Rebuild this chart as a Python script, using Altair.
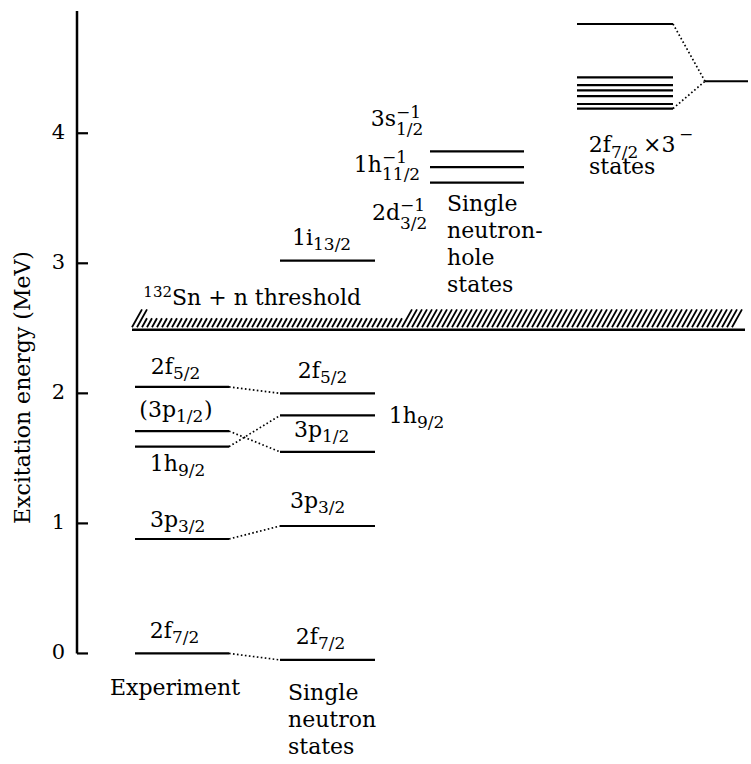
import altair as alt
import numpy as np
import pandas as pd

# ---------------------------------------------------------------
# Level energies (MeV)
# ---------------------------------------------------------------
exp_names = ["2f7/2", "3p3/2", "1h9/2", "(3p1/2)", "2f5/2"]
exp_energy = [0.00, 0.88, 1.59, 1.71, 2.05]

sp_names = ["2f7/2", "3p3/2", "3p1/2", "1h9/2", "2f5/2", "1i13/2"]
sp_energy = [-0.05, 0.98, 1.55, 1.83, 2.00, 3.02]

hole_names = ["2d3/2^-1", "1h11/2^-1", "3s1/2^-1"]
hole_energy = [3.62, 3.74, 3.86]

oct_energy = [4.19, 4.225, 4.285, 4.33, 4.37, 4.43, 4.84]
oct_centroid = 4.40

# experiment level -> single-neutron level it is linked to
link_from = [0.00, 0.88, 1.59, 1.71, 2.05]
link_to = [-0.05, 0.98, 1.83, 1.55, 2.00]

threshold_lo = 2.508   # 132Sn + n separation energy band
threshold_hi = 2.646
threshold_line = 2.489

tick_values = [0, 1, 2, 3, 4]

# ---------------------------------------------------------------
# Layout
# ---------------------------------------------------------------
Y_MIN, Y_MAX = -0.85, 4.94
PLOT_W, PLOT_H = 674, 753
MEV_PER_PX = (Y_MAX - Y_MIN) / PLOT_H
FONT = "DejaVu Serif"
BIG, SMALL = 22, 17

# horizontal extent of each column of levels (x units = pixels from the axis)
COL_EXP = (58, 152)
COL_SP = (203, 298)
COL_HOLE = (353, 447)
COL_OCT = (500, 596)
COL_CEN = (628, 671)
BAND = (55, 668)
BAND_TEXT = (65, 321)   # part of the band sitting under the threshold label


def at(e, px):
    """Energy shifted by a number of pixels (positive = upwards)."""
    return e + px * MEV_PER_PX


xs = alt.Scale(domain=[0, PLOT_W], range=[0, PLOT_W])
ys = alt.Scale(domain=[Y_MIN, Y_MAX])
X = lambda f="x": alt.X(f"{f}:Q", scale=xs, axis=None)
Y = lambda f="y": alt.Y(f"{f}:Q", scale=ys, axis=None)

# ---------------------------------------------------------------
# Level lines
# ---------------------------------------------------------------
rows = []
for e in exp_energy:
    rows.append({"x": COL_EXP[0], "x2": COL_EXP[1], "y": e})
for e in sp_energy:
    rows.append({"x": COL_SP[0], "x2": COL_SP[1], "y": e})
for e in hole_energy:
    rows.append({"x": COL_HOLE[0], "x2": COL_HOLE[1], "y": e})
for e in oct_energy:
    rows.append({"x": COL_OCT[0], "x2": COL_OCT[1], "y": e})
rows.append({"x": COL_CEN[0], "x2": COL_CEN[1], "y": oct_centroid})
levels = pd.DataFrame(rows)

level_layer = alt.Chart(levels).mark_rule(color="black", strokeWidth=2.2).encode(
    x=X(), x2="x2:Q", y=Y()
)

# ---------------------------------------------------------------
# Dotted connectors
# ---------------------------------------------------------------
links = pd.DataFrame(
    [{"x": COL_EXP[1], "x2": COL_SP[0], "y": a, "y2": b} for a, b in zip(link_from, link_to)]
    + [
        {"x": COL_OCT[1], "x2": COL_CEN[0], "y": max(oct_energy), "y2": oct_centroid},
        {"x": COL_OCT[1], "x2": COL_CEN[0], "y": min(oct_energy), "y2": oct_centroid},
    ]
)
link_layer = alt.Chart(links).mark_rule(
    color="black", strokeWidth=1.7, strokeDash=[1.6, 2.4]
).encode(x=X(), x2="x2:Q", y=Y(), y2="y2:Q")

# ---------------------------------------------------------------
# Energy axis: line, inward ticks, tick labels
# ---------------------------------------------------------------
axis_line = alt.Chart(pd.DataFrame({"x": [0], "y": [0.0], "y2": [Y_MAX]})).mark_rule(
    color="black", strokeWidth=2.5
).encode(x=X(), y=Y(), y2="y2:Q")

ticks = pd.DataFrame({"x": 0, "x2": 11, "xl": -12, "y": tick_values,
                      "t": [str(v) for v in tick_values]})
tick_layer = alt.Chart(ticks).mark_rule(color="black", strokeWidth=2.2).encode(
    x=X(), x2="x2:Q", y=Y()
)
tick_labels = alt.Chart(ticks).mark_text(
    font=FONT, fontSize=21, align="right", baseline="middle", color="black"
).encode(x=X("xl"), y=Y(), text="t:N")

# ---------------------------------------------------------------
# Hatched threshold band
# ---------------------------------------------------------------
short_hi = (threshold_lo + threshold_hi) / 2
hatch_rows = []
for x0 in np.arange(BAND[0], BAND[1] - 10, 5):
    if BAND_TEXT[0] <= x0 <= BAND_TEXT[1]:
        hatch_rows.append({"x": x0, "x2": x0 + 5, "y": threshold_lo, "y2": short_hi})
    else:
        hatch_rows.append({"x": x0, "x2": x0 + 10, "y": threshold_lo, "y2": threshold_hi})
hatch = pd.DataFrame(hatch_rows)
hatch_layer = alt.Chart(hatch).mark_rule(color="black", strokeWidth=1.8).encode(
    x=X(), x2="x2:Q", y=Y(), y2="y2:Q"
)
band_base = alt.Chart(
    pd.DataFrame({"x": [BAND[0]], "x2": [BAND[1]], "y": [threshold_line]})
).mark_rule(color="black", strokeWidth=2.6).encode(x=X(), x2="x2:Q", y=Y())

# ---------------------------------------------------------------
# Labels: big glyphs, subscripts/superscripts as smaller fragments
# ---------------------------------------------------------------
big_right, big_left, small_left, small_right = [], [], [], []


def nuc(x, e, base_px, main, sub=None, sup=None, sub_px=-5, sup_px=8):
    big_right.append({"x": x, "y": at(e, base_px), "t": main})
    if sub:
        small_left.append({"x": x, "y": at(e, base_px + sub_px), "t": sub})
    if sup:
        small_left.append({"x": x, "y": at(e, base_px + sup_px), "t": sup})


# experiment column
nuc(95, exp_energy[0], 15, "2f", "7/2")
nuc(101, exp_energy[1], 12, "3p", "3/2")
nuc(101, exp_energy[2], -24, "1h", "9/2")
nuc(99, exp_energy[3], 14, "(3p", "1/2")
big_left.append({"x": 127, "y": at(exp_energy[3], 14), "t": ")"})
nuc(96, exp_energy[4], 13, "2f", "5/2")

# single-neutron column
nuc(241, sp_energy[0], 16, "2f", "7/2")
nuc(241, sp_energy[1], 18, "3p", "3/2")
nuc(245, sp_energy[2], 15, "3p", "1/2")
nuc(340, sp_energy[3], -8, "1h", "9/2")
nuc(243, sp_energy[4], 15, "2f", "5/2")
nuc(236, sp_energy[5], 16, "1i", "13/2")

# single-hole states
nuc(319, hole_energy[2], 25, "3s", "1/2", "\u22121", sub_px=-9, sup_px=8)
nuc(305, hole_energy[1], -5, "1h", "11/2", "\u22121", sub_px=-8, sup_px=9)
nuc(323, hole_energy[0], -37, "2d", "3/2", "\u22121", sub_px=-9, sup_px=9)
big_left.append({"x": 370, "y": at(hole_energy[0], -28), "t": "Single\nneutron-\nhole\nstates"})

# neutron threshold
big_left.append({"x": 95, "y": at(threshold_lo, 22), "t": "Sn + n threshold"})
small_right.append({"x": 95, "y": at(threshold_lo, 30), "t": "132"})

# particle x octupole multiplet
nuc(534, min(oct_energy), -43, "2f", "7/2", sub_px=-6)
big_left.append({"x": 566, "y": at(min(oct_energy), -43), "t": "\u00d73"})
small_left.append({"x": 602, "y": at(min(oct_energy), -31), "t": "\u2212"})
big_left.append({"x": 512, "y": at(min(oct_energy), -65), "t": "states"})

# column captions
big_left.append({"x": 33, "y": at(0.0, -42), "t": "Experiment"})
big_left.append({"x": 211, "y": at(0.0, -47), "t": "Single\nneutron\nstates"})


def text_layer(rows, size, align):
    return alt.Chart(pd.DataFrame(rows)).mark_text(
        font=FONT,
        fontSize=size,
        align=align,
        baseline="alphabetic",
        color="black",
        lineBreak="\n",
        lineHeight=27,
    ).encode(x=X(), y=Y(), text="t:N")


title_layer = alt.Chart(
    pd.DataFrame({"x": [-54], "y": [(Y_MIN + Y_MAX) / 2], "t": ["Excitation energy (MeV)"]})
).mark_text(
    font=FONT, fontSize=22, angle=270, align="center", baseline="middle", color="black"
).encode(x=X(), y=Y(), text="t:N")

chart = (
    alt.layer(
        level_layer,
        link_layer,
        axis_line,
        tick_layer,
        tick_labels,
        hatch_layer,
        band_base,
        text_layer(big_right, BIG, "right"),
        text_layer(big_left, BIG, "left"),
        text_layer(small_left, SMALL, "left"),
        text_layer(small_right, 15, "right"),
        title_layer,
    )
    .properties(
        width=PLOT_W,
        height=PLOT_H,
        autosize=alt.AutoSizeParams(type="none"),
        padding={"left": 77, "top": 11, "right": 0, "bottom": 0},
        background="white",
    )
    .configure_view(stroke=None)
)

chart.save("out.html", embed_options={"renderer": "svg", "actions": False})
